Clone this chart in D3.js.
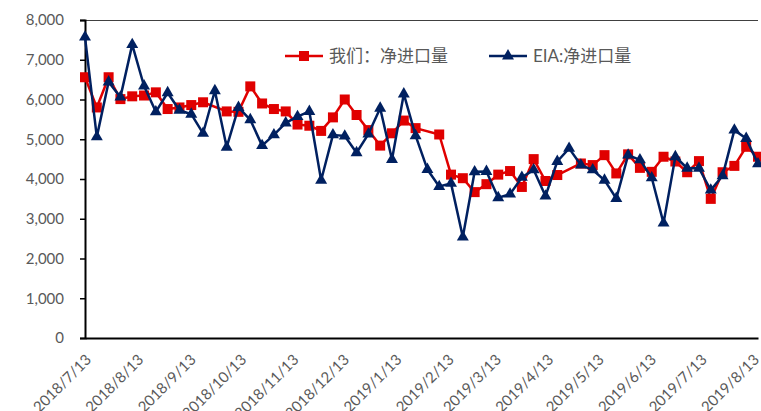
<!DOCTYPE html>
<html>
<head>
<meta charset="utf-8">
<script src="https://cdn.jsdelivr.net/npm/d3@7"></script>
<style>
	body { margin: 0; background: #fff; }
	svg { display: block; font-family: Lato, 'Noto Sans CJK SC', sans-serif; }
</style>
</head>
<body>
<div id="chart"></div>
<script>
// weekly dates, first one 2018/7/13
const startDate = new Date(2018, 6, 13)
const weekCount = 58
const dates = d3.range(weekCount).map(i => d3.timeDay.offset(startDate, 7 * i))

// 我们：净进口量 (null = no point that week)
const ourValues = [
	6560, 5800, 6560, 6010, 6080, 6100, 6180, 5760, 5800, 5860,
	5930, null, 5700, 5690, 6330, 5900, 5760, 5700, 5370, 5340,
	5210, 5550, 6000, 5610, 5230, 4840, 5150, 5470, 5280, null,
	5120, 4110, 4020, 3670, 3870, 4110, 4200, 3800, 4500, 3950,
	4100, null, 4390, 4350, 4600, 4140, 4620, 4280, 4180, 4560,
	4440, 4170, 4450, 3500, 4170, 4330, 4810, 4560,
]

// EIA:净进口量
const eiaValues = [
	7570, 5060, 6440, 6060, 7380, 6340, 5690, 6170, 5730, 5630,
	5150, 6220, 4800, 5800, 5490, 4840, 5110, 5410, 5570, 5700,
	3970, 5110, 5080, 4660, 5130, 5780, 4490, 6140, 5090, 4240,
	3810, 3890, 2540, 4180, 4190, 3530, 3620, 4040, 4230, 3570,
	4440, 4770, 4350, 4230, 3970, 3510, 4600, 4480, 4030, 2890,
	4560, 4270, 4270, 3720, 4080, 5230, 5020, 4380,
]

const xTickLabels = [
	'2018/7/13', '2018/8/13', '2018/9/13', '2018/10/13', '2018/11/13', '2018/12/13', '2019/1/13',
	'2019/2/13', '2019/3/13', '2019/4/13', '2019/5/13', '2019/6/13', '2019/7/13', '2019/8/13',
]
const yTicks = [0, 1000, 2000, 3000, 4000, 5000, 6000, 7000, 8000]

const seriesNames = ['我们：净进口量', 'EIA:净进口量']
const red = '#e00000'
const navy = '#002060'

const width = 761
const height = 411
const plot = { left: 85, right: 758, top: 20, bottom: 338 }

const parseLabel = d3.timeParse('%Y/%-m/%-d')

const x = d3.scaleTime()
	.domain([dates[0], dates[dates.length - 1]])
	.range([plot.left, plot.right])

const y = d3.scaleLinear()
	.domain([0, 8000])
	.range([plot.bottom, plot.top])

const svg = d3.select('#chart')
	.append('svg')
	.attr('width', width)
	.attr('height', height)

// top edge of the plot
svg.append('line')
	.attr('x1', plot.left).attr('x2', plot.right)
	.attr('y1', plot.top + 0.5).attr('y2', plot.top + 0.5)
	.attr('stroke', '#404040')
	.attr('stroke-width', 1)

// y axis
const yAxis = svg.append('g')
	.attr('transform', `translate(${plot.left},0)`)
	.call(d3.axisLeft(y)
		.tickValues(yTicks)
		.tickFormat(d3.format(','))
		.tickSize(5)
		.tickPadding(16))
yAxis.select('.domain').attr('stroke', '#000').attr('stroke-width', 2)
yAxis.selectAll('.tick line').attr('stroke', '#000').attr('stroke-width', 1.5)
yAxis.selectAll('.tick text')
	.attr('fill', '#595959')
	.style('font-size', '15px')
	.style('font-family', 'Lato, sans-serif')

// x axis (labels run off the bottom edge as in the source picture)
const xAxis = svg.append('g')
	.attr('transform', `translate(0,${plot.bottom})`)
	.call(d3.axisBottom(x)
		.tickValues(xTickLabels.map(parseLabel))
		.tickFormat(d3.timeFormat('%Y/%-m/%-d'))
		.tickSize(0))
xAxis.select('.domain').attr('stroke', '#000').attr('stroke-width', 2)
xAxis.selectAll('.tick text')
	.attr('fill', '#595959')
	.style('font-size', '15px')
	.style('font-family', 'Lato, sans-serif')
	.attr('text-anchor', 'end')
	.attr('y', 0)
	.attr('dy', '0.35em')
	.attr('transform', 'translate(3,19) rotate(-45)')

// series
const line = d3.line()
	.x(d => x(d.date))
	.y(d => y(d.value))

const ourData = dates.map((date, i) => ({ date, value: ourValues[i] }))
	.filter(d => d.value !== null)
const eiaData = dates.map((date, i) => ({ date, value: eiaValues[i] }))

svg.append('path')
	.datum(ourData)
	.attr('fill', 'none')
	.attr('stroke', red)
	.attr('stroke-width', 2.5)
	.attr('stroke-linejoin', 'round')
	.attr('d', line)

svg.selectAll('rect.our')
	.data(ourData)
	.enter()
	.append('rect')
	.attr('class', 'our')
	.attr('x', d => x(d.date) - 5)
	.attr('y', d => y(d.value) - 5)
	.attr('width', 10)
	.attr('height', 10)
	.attr('fill', red)

const triangle = d3.symbol().type(d3.symbolTriangle).size(62)

svg.append('path')
	.datum(eiaData)
	.attr('fill', 'none')
	.attr('stroke', navy)
	.attr('stroke-width', 2.5)
	.attr('stroke-linejoin', 'round')
	.attr('d', line)

svg.selectAll('path.eia')
	.data(eiaData)
	.enter()
	.append('path')
	.attr('class', 'eia')
	.attr('transform', d => `translate(${x(d.date)},${y(d.value)})`)
	.attr('d', triangle)
	.attr('fill', navy)

// legend
const legend = svg.append('g').attr('transform', 'translate(0,56)')
const legendItems = [
	{ name: seriesNames[0], color: red, x0: 285, marker: 'square' },
	{ name: seriesNames[1], color: navy, x0: 489, marker: 'triangle' },
]
legendItems.forEach(item => {
	const g = legend.append('g').attr('transform', `translate(${item.x0},0)`)
	g.append('line')
		.attr('x1', 0).attr('x2', 38)
		.attr('stroke', item.color)
		.attr('stroke-width', 2.5)
	if (item.marker === 'square') {
		g.append('rect')
			.attr('x', 14).attr('y', -5)
			.attr('width', 10).attr('height', 10)
			.attr('fill', item.color)
	} else {
		g.append('path')
			.attr('transform', 'translate(19,0)')
			.attr('d', triangle)
			.attr('fill', item.color)
	}
	g.append('text')
		.attr('x', 44)
		.attr('dy', '0.35em')
		.attr('fill', '#595959')
		.style('font-size', '17px')
		.text(item.name)
})
</script>
</body>
</html>
